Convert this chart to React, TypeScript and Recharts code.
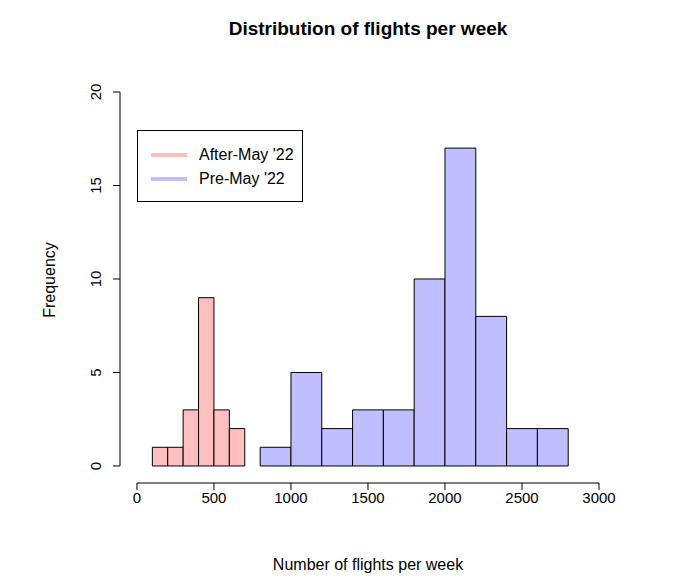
import React from "react";
import { ComposedChart, XAxis, YAxis, ReferenceArea, ReferenceLine } from "recharts";

const afterStarts = [100, 200, 300, 400, 500, 600];
const afterCounts = [1, 1, 3, 9, 3, 2];
const afterWidth = 100;
const preStarts = [800, 1000, 1200, 1400, 1600, 1800, 2000, 2200, 2400, 2600];
const preCounts = [1, 5, 2, 3, 3, 10, 17, 8, 2, 2];
const preWidth = 200;
const xTicks = [0, 500, 1000, 1500, 2000, 2500, 3000];
const yTicks = [0, 5, 10, 15, 20];

const PINK = "#ffbfbf";
const BLUE = "#bfbfff";
const FONT = "'Liberation Sans', Arial, sans-serif";

const YTick = (p: any) => (
  <text x={p.x - 10} y={p.y} transform={`rotate(-90 ${p.x - 10} ${p.y})`} textAnchor="middle"
    fontSize={15} fontFamily={FONT} fill="#000">{p.payload.value}</text>
);

export default function App() {
  return (
    <div style={{ position: "absolute", left: 0, top: 0, width: 677, height: 588, background: "#fff", fontFamily: FONT }}>
      <ComposedChart width={677} height={588} data={[]} margin={{ top: 92, right: 78, bottom: 75, left: 60 }}>
        <XAxis type="number" dataKey="x" domain={[-110, 3000]} ticks={xTicks} axisLine={false}
          tickLine={{ stroke: "#000" }} tickSize={7} allowDataOverflow height={30}
          tick={{ fontSize: 15, fill: "#000", fontFamily: FONT }} />
        <YAxis type="number" domain={[-0.91, 20]} ticks={yTicks} axisLine={false} width={60}
          tickLine={{ stroke: "#000" }} tickSize={7} allowDataOverflow tick={<YTick />} />
        {afterStarts.map((s, i) => (
          <ReferenceArea key={"a" + i} x1={s} x2={s + afterWidth} y1={0} y2={afterCounts[i]}
            fill={PINK} fillOpacity={1} stroke="#000" strokeWidth={1} ifOverflow="visible" />
        ))}
        {preStarts.map((s, i) => (
          <ReferenceArea key={"p" + i} x1={s} x2={s + preWidth} y1={0} y2={preCounts[i]}
            fill={BLUE} fillOpacity={1} stroke="#000" strokeWidth={1} ifOverflow="visible" />
        ))}
        <ReferenceLine segment={[{ x: 0, y: -0.91 }, { x: 3000, y: -0.91 }]} stroke="#000" ifOverflow="visible" />
        <ReferenceLine segment={[{ x: -110, y: 0 }, { x: -110, y: 20 }]} stroke="#000" ifOverflow="visible" />
      </ComposedChart>
      <div style={{ position: "absolute", left: 137, width: 462, top: 18, textAlign: "center", fontWeight: "bold", fontSize: 19 }}>
        Distribution of flights per week
      </div>
      <div style={{ position: "absolute", left: 137, width: 462, top: 556, textAlign: "center", fontSize: 16 }}>
        Number of flights per week
      </div>
      <div style={{ position: "absolute", left: 50, top: 280, transform: "translate(-50%,-50%) rotate(-90deg)", fontSize: 16, whiteSpace: "nowrap" }}>
        Frequency
      </div>
      <div style={{ position: "absolute", left: 137, top: 130, width: 164, height: 70, border: "1px solid #000", background: "#fff", fontSize: 16 }}>
        {[["After-May '22", PINK], ["Pre-May '22", BLUE]].map(([t, c], i) => (
          <div key={t} style={{ position: "absolute", left: 13, top: 15 + i * 24, display: "flex", alignItems: "center" }}>
            <div style={{ width: 36, height: 4, background: c, marginRight: 12 }} />
            <span style={{ lineHeight: "18px" }}>{t}</span>
          </div>
        ))}
      </div>
    </div>
  );
}
